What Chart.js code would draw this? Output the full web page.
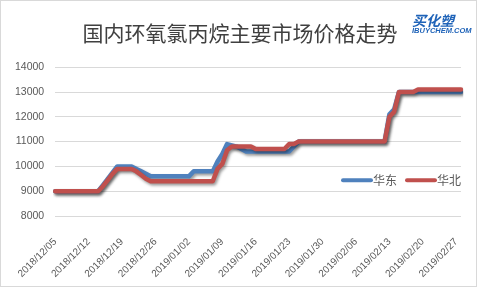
<!DOCTYPE html>
<html>
<head>
<meta charset="utf-8">
<script src="https://cdn.jsdelivr.net/npm/chart.js@4.4.1/dist/chart.umd.min.js"></script>
<style>
  html, body { margin: 0; padding: 0; background: #fff; }
  #wrap { width: 480px; height: 288px; }
</style>
</head>
<body>
<div id="wrap"><canvas id="c"></canvas></div>
<script>
// chart data
const chartTitle = '国内环氧氯丙烷主要市场价格走势';
const seriesNames = ['华东', '华北'];
const startDate = '2018/12/05'; // one point per day
const tickLabels = ['2018/12/05', '2018/12/12', '2018/12/19', '2018/12/26', '2019/01/02', '2019/01/09',
  '2019/01/16', '2019/01/23', '2019/01/30', '2019/02/06', '2019/02/13', '2019/02/20', '2019/02/27'];
const yTicks = [8000, 9000, 10000, 11000, 12000, 13000, 14000];

// 华东 (12/05 .. 02/28)
const eastValues = [
  9000, 9000, 9000, 9000, 9000, 9000, 9000, 9000, 9000, 9000,
  9250, 9500, 9750, 10000, 10000, 10000, 10000, 9900, 9800, 9700,
  9600, 9600, 9600, 9600, 9600, 9600, 9600, 9600, 9600, 9800,
  9800, 9800, 9800, 9800, 10200, 10500, 10900, 10850, 10800, 10700,
  10600, 10600, 10600, 10600, 10600, 10600, 10600, 10600, 10600, 10600,
  10800, 11000, 11000, 11000, 11000, 11000, 11000, 11000, 11000, 11000,
  11000, 11000, 11000, 11000, 11000, 11000, 11000, 11000, 11000, 11000,
  12100, 12300, 13000, 13000, 13000, 13000, 13000, 13000, 13000, 13000,
  13000, 13000, 13000, 13000, 13000, 13000
];
// 华北
const northValues = [
  9000, 9000, 9000, 9000, 9000, 9000, 9000, 9000, 9000, 9000,
  9200, 9450, 9700, 9900, 9900, 9900, 9900, 9800, 9650, 9500,
  9400, 9400, 9400, 9400, 9400, 9400, 9400, 9400, 9400, 9400,
  9400, 9400, 9400, 9400, 9900, 10100, 10650, 10800, 10800, 10800,
  10800, 10800, 10700, 10700, 10700, 10700, 10700, 10700, 10700, 10900,
  10900, 11000, 11000, 11000, 11000, 11000, 11000, 11000, 11000, 11000,
  11000, 11000, 11000, 11000, 11000, 11000, 11000, 11000, 11000, 11000,
  12000, 12200, 13000, 13000, 13000, 13000, 13100, 13100, 13100, 13100,
  13100, 13100, 13100, 13100, 13100, 13100
];

const colors = ['#4f81bd', '#c0504d'];

// build the daily date labels
const pad = n => (n < 10 ? '0' : '') + n;
const dates = [];
const d0 = new Date(startDate.replace(/\//g, '-') + 'T00:00:00');
for (let i = 0; i < eastValues.length; i++) {
  const d = new Date(d0.getTime() + i * 86400000);
  dates.push(d.getFullYear() + '/' + pad(d.getMonth() + 1) + '/' + pad(d.getDate()));
}

// white background + thin frame + logo
const framePlugin = {
  id: 'frame',
  beforeDraw(chart) {
    const ctx = chart.ctx;
    ctx.save();
    ctx.fillStyle = '#fff';
    ctx.fillRect(0, 0, chart.width, chart.height);
    ctx.strokeStyle = '#d9d9d9';
    ctx.lineWidth = 1;
    ctx.strokeRect(0.5, 0.5, chart.width - 4, chart.height - 2);
    ctx.restore();
  },
  afterDraw(chart) {
    const ctx = chart.ctx;
    ctx.save();
    ctx.fillStyle = '#1f63b8';
    ctx.textBaseline = 'alphabetic';
    ctx.font = 'italic bold 14px "Noto Sans CJK SC"';
    ctx.fillText('买化塑', 412, 26);
    ctx.font = 'italic bold 7.5px "Liberation Sans"';
    ctx.fillText('IBUYCHEM.COM', 412, 33);
    ctx.restore();
  }
};

// drop shadow under the lines, like the office chart
const shadowPlugin = {
  id: 'lineShadow',
  beforeDatasetDraw(chart) {
    const ctx = chart.ctx;
    ctx.save();
    ctx.shadowColor = 'rgba(0,0,0,0.4)';
    ctx.shadowBlur = 3;
    ctx.shadowOffsetX = 1.5;
    ctx.shadowOffsetY = 2;
  },
  afterDatasetDraw(chart) {
    chart.ctx.restore();
  }
};

// legend sits inside the plot, right side
const insideLegend = {
  id: 'insideLegend',
  afterDatasetsDraw(chart) {
    const ctx = chart.ctx;
    const area = chart.chartArea;
    const y = area.top + 113;
    let x = area.right - 118;
    ctx.save();
    ctx.font = '12px "Noto Sans CJK SC"';
    ctx.textBaseline = 'middle';
    chart.data.datasets.forEach(ds => {
      ctx.strokeStyle = ds.borderColor;
      ctx.lineWidth = 4;
      ctx.lineCap = 'round';
      ctx.beginPath();
      ctx.moveTo(x, y);
      ctx.lineTo(x + 28, y);
      ctx.stroke();
      ctx.fillStyle = '#595959';
      ctx.fillText(ds.label, x + 30, y);
      x += 64;
    });
    ctx.restore();
  }
};

new Chart(document.getElementById('c'), {
  type: 'line',
  data: {
    labels: dates,
    datasets: [
      {
        label: seriesNames[0],
        data: eastValues,
        borderColor: colors[0],
        backgroundColor: colors[0],
        borderWidth: 4.5,
        pointRadius: 0,
        tension: 0,
        borderJoinStyle: 'round',
        borderCapStyle: 'round',
        order: 1
      },
      {
        label: seriesNames[1],
        data: northValues,
        borderColor: colors[1],
        backgroundColor: colors[1],
        borderWidth: 4.5,
        pointRadius: 0,
        tension: 0,
        borderJoinStyle: 'round',
        borderCapStyle: 'round',
        order: 0
      }
    ]
  },
  options: {
    responsive: true,
    maintainAspectRatio: false,
    animation: false,
    layout: { padding: { left: 4, right: 4, top: 0, bottom: 0 } },
    plugins: {
      legend: { display: false },
      tooltip: { enabled: false },
      title: {
        display: true,
        text: chartTitle,
        color: '#404040',
        font: { family: '"Noto Sans CJK SC"', size: 21, weight: 'normal' },
        padding: { top: 20, bottom: 22 }
      }
    },
    scales: {
      x: {
        type: 'category',
        offset: false,
        grid: { display: false },
        border: { display: false },
        afterFit: scale => {
          // labels may hang left, the office chart lets them
          scale.paddingLeft = 0;
          scale.paddingRight = 0;
          scale.height = 72;
        },
        ticks: {
          autoSkip: false,
          maxRotation: 45,
          minRotation: 45,
          padding: 12,
          color: '#595959',
          font: { family: '"Liberation Sans"', size: 10 },
          callback: function (val, i) {
            const lab = this.getLabelForValue(val);
            return tickLabels.includes(lab) ? lab : null;
          }
        }
      },
      y: {
        min: yTicks[0],
        max: yTicks[yTicks.length - 1],
        afterBuildTicks: scale => { scale.ticks = yTicks.map(v => ({ value: v })); },
        grid: { color: '#d9d9d9', lineWidth: 1, drawTicks: false },
        border: { display: false },
        ticks: {
          padding: 11,
          color: '#595959',
          font: { family: '"Liberation Sans"', size: 10.5 },
          callback: v => String(v)
        }
      },
      // empty right-hand spacer so the plot stops short of the frame
      yRight: {
        position: 'right',
        grid: { display: false, drawTicks: false },
        border: { display: false },
        ticks: { display: false },
        afterFit: scale => { scale.width = 15; }
      }
    }
  },
  plugins: [framePlugin, shadowPlugin, insideLegend]
});
</script>
</body>
</html>
